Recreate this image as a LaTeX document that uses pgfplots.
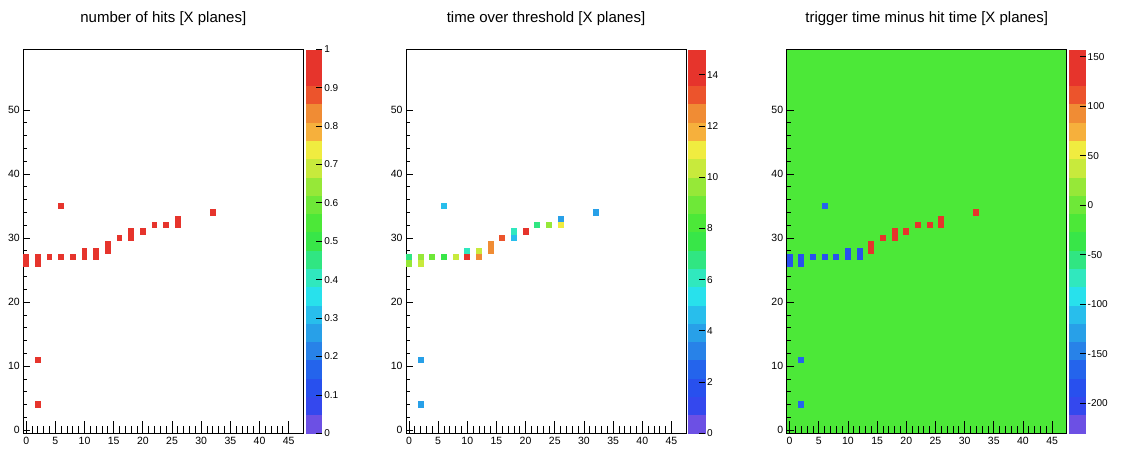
\documentclass[border=0pt]{standalone}
\usepackage{fontspec}
\setmainfont{Liberation Sans}
\usepackage{pgfplots}
\pgfplotsset{compat=1.18}

\pgfdeclareplotmark{cell}{%
  \pgfpathrectanglecorners{\pgfpoint{-2.9167pt}{-3.2pt}}{\pgfpoint{2.9167pt}{3.2pt}}%
  \pgfusepathqfill}

\definecolor{bggreen}{RGB}{76,232,56}

\pgfplotsset{
  colormap={rootpal}{
    rgb255=(108,80,228) rgb255=(52,72,238) rgb255=(40,80,238) rgb255=(36,100,236)
    rgb255=(40,130,232) rgb255=(40,160,232) rgb255=(40,190,236) rgb255=(40,225,236)
    rgb255=(48,232,190) rgb255=(48,230,130) rgb255=(56,230,72) rgb255=(76,232,56)
    rgb255=(110,232,56) rgb255=(150,232,56) rgb255=(200,234,60) rgb255=(240,236,64)
    rgb255=(246,176,60) rgb255=(240,140,52) rgb255=(236,84,44) rgb255=(230,52,44)
    rgb255=(230,52,44)},
  rootax/.style={
    scale only axis, width=280pt, height=384pt,
    anchor=south west,
    xmin=-0.5, xmax=47.5, ymin=-0.5, ymax=59.5,
    xtick={0,5,...,45}, ytick={0,10,...,50},
    minor x tick num=4, minor y tick num=4,
    tick align=inside, tick pos=left,
    major tick length=7pt, minor tick length=4pt,
    xtick style={/pgfplots/major tick length=12pt, /pgfplots/minor tick length=7pt},
    every tick/.style={black, line width=0.8pt},
    axis line style={black, line width=0.9pt},
    axis on top,
    tick label style={font=\fontsize{10.5}{12}\selectfont},
    /pgf/number format/assume math mode=true,
    title style={at={(0.5,1)}, anchor=base, yshift=21pt, font=\fontsize{15}{18}\selectfont},
    colormap name=rootpal,
    colormap access=piecewise constant,
    colorbar,
    colorbar style={
      at={(parent axis.north east)}, anchor=north west, xshift={2pt-0.3cm},
      width=17pt,
      axis line style={draw=none},
      tick align=inside, ytick pos=right, yticklabel pos=right,
      major tick length=6pt,
      ytick style={black, line width=0.8pt},
      yticklabel style={font=\fontsize{10}{12}\selectfont, xshift=-1.5pt},
      /pgf/number format/assume math mode=true,
      /pgf/number format/fixed,
    },
  },
  cellplot/.style={scatter, only marks, mark=cell, scatter src=explicit,
    scatter/use mapped color={draw=none, fill=mapped color}},
}

\begin{document}
\begin{tikzpicture}
\useasboundingbox (0,0) rectangle (1124pt,461pt);

% ---------- number of hits ----------
\begin{axis}[rootax, at={(23.3pt,27.7pt)},
  title={number of hits [X planes]},
  point meta min=0, point meta max=1,
  colorbar style={ytick={0,0.1,0.2,0.3,0.4,0.5,0.6,0.7,0.8,0.9,1}}]
\addplot[cellplot] table[meta=c] {
x y c
0 26 1
0 27 1
2 26 1
2 27 1
4 27 1
6 27 1
8 27 1
10 27 1
10 28 1
12 27 1
12 28 1
14 28 1
14 29 1
16 30 1
18 30 1
18 31 1
20 31 1
22 32 1
24 32 1
26 32 1
26 33 1
32 34 1
6 35 1
2 11 1
2 4 1
};
\end{axis}

% ---------- time over threshold ----------
\begin{axis}[rootax, at={(406pt,27.7pt)},
  title={time over threshold [X planes]},
  point meta min=0, point meta max=15,
  colorbar style={ytick={0,2,4,6,8,10,12,14}}]
\addplot[cellplot] table[meta=c] {
x y c
0 26 9.8
0 27 6.5
2 26 10.2
2 27 9.5
4 27 9.2
6 27 7.8
8 27 10.0
10 27 13.8
10 28 6.4
12 27 12.3
12 28 10.0
14 28 12.3
14 29 12.6
16 30 13.2
18 30 4.9
18 31 6.4
20 31 14.6
22 32 6.6
24 32 9.5
26 32 10.8
26 33 4.2
32 34 4.2
6 35 4.9
2 11 3.6
2 4 3.6
};
\end{axis}

% ---------- trigger time minus hit time ----------
\begin{axis}[rootax, at={(786.7pt,27.7pt)},
  title={trigger time minus hit time [X planes]},
  axis background/.style={fill=bggreen},
  point meta min=-230.4, point meta max=157.4,
  colorbar style={ytick={-200,-150,-100,-50,0,50,100,150}}]
\addplot[cellplot] table[meta=c] {
x y c
0 26 -182
0 27 -182
2 26 -182
2 27 -182
4 27 -182
6 27 -182
8 27 -182
10 27 -182
10 28 -182
12 27 -182
12 28 -182
14 28 130
14 29 130
16 30 130
18 30 130
18 31 130
20 31 130
22 32 130
24 32 130
26 32 130
26 33 130
32 34 130
6 35 -165
2 11 -160
2 4 -160
};
\end{axis}
\end{tikzpicture}
\end{document}
